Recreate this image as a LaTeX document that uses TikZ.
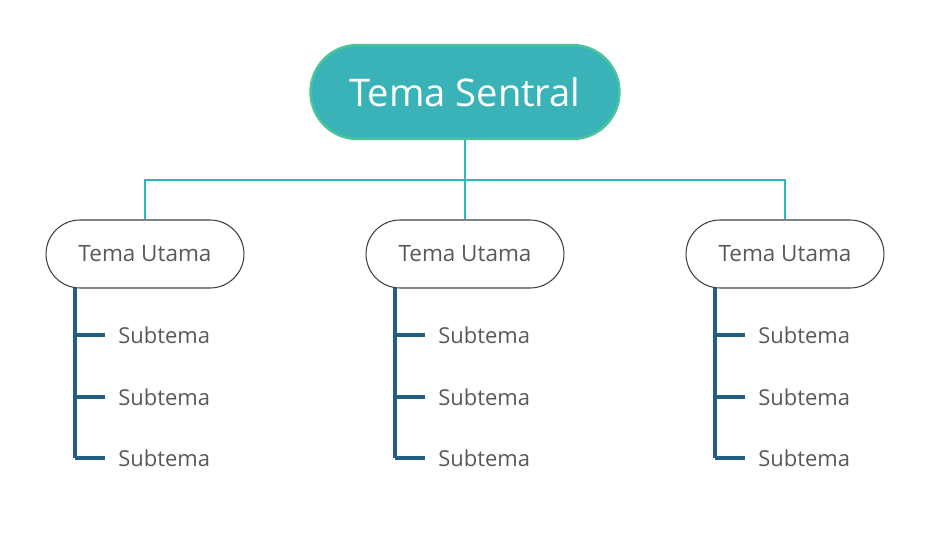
\documentclass[tikz,border=0pt]{standalone}
\usepackage{fontspec}
\setmainfont{Open Sans}
\usetikzlibrary{calc}
\definecolor{tealfill}{HTML}{3AB3B8}
\definecolor{tealline}{HTML}{4CC49A}
\definecolor{link}{HTML}{2EB8BC}
\definecolor{subline}{HTML}{215F82}
\definecolor{txt}{HTML}{595959}
\tikzstyle{central}=[draw=tealline,line width=1.4pt,fill=tealfill,rounded corners=0.94cm,minimum width=6.18cm,minimum height=1.88cm,text=white,font=\fontsize{21.7}{26}\selectfont]
\tikzstyle{main}=[draw=black!75,line width=0.6pt,fill=white,rounded corners=0.68cm,minimum width=3.96cm,minimum height=1.36cm,text=txt,font=\fontsize{12.8}{15}\selectfont]
\tikzstyle{sub}=[anchor=west,text=txt,inner sep=0pt,font=\fontsize{12.5}{15}\selectfont]
\tikzstyle{link}=[draw=link,line width=1.4pt]
\tikzstyle{branch}=[draw=subline,line width=1.8pt]

\begin{document}
\begin{tikzpicture}[x=0.02cm,y=-0.02cm]
\useasboundingbox (0,0) rectangle (931,534);
\node[central] (C) at (465,92) {Tema Sentral};
\coordinate (H) at (465,180);
\draw[link] (C.south)--(H);
\foreach \i/\x in {1/145,2/465,3/785}{
	\node[main] (M\i) at (\x,254) {Tema Utama};
	\coordinate (K\i) at (\x,180);
	\draw[link] (H)--(K\i)--(M\i.north);
	\coordinate (T\i) at ($(\x,288)+(-70,0)$);
	\coordinate (E\i) at ($(\x,458)+(-70,0)$);
	\draw[branch] (T\i)--(E\i);
	\foreach \j/\y in {1/335,2/397,3/458}{
		\coordinate (P\i\j) at ($(\x,\y)+(-70,0)$);
		\node[sub] (S\i\j) at ($(\x,\y)+(-27,0)$) {Subtema};
		\draw[branch] (P\i\j)--($(P\i\j)+(30,0)$);
	}
}
\end{tikzpicture}
\end{document}
